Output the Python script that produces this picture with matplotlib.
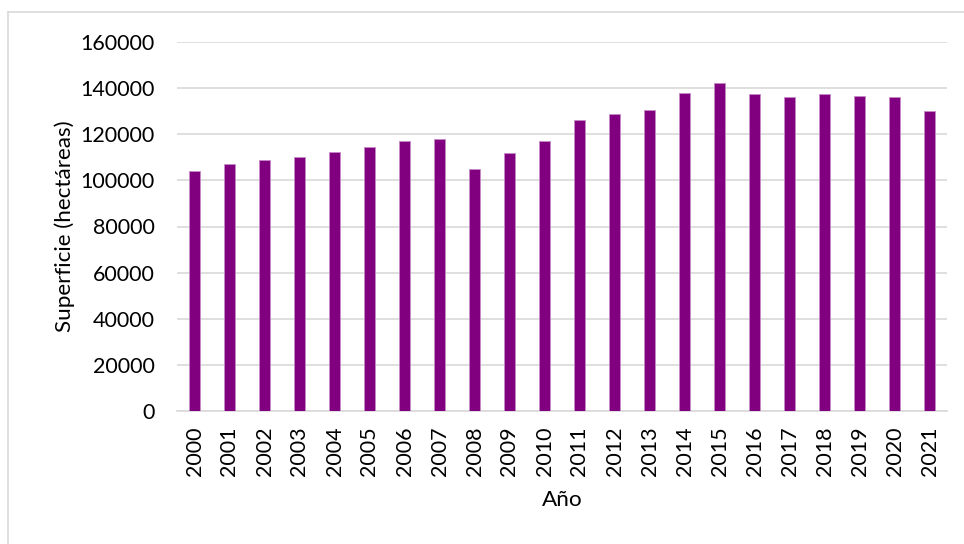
import matplotlib.pyplot as plt
from matplotlib.lines import Line2D

years = [str(y) for y in range(2000, 2022)]
superficie = [104000, 107100, 108800, 110300, 112300, 114600, 116900, 117800,
              104900, 111700, 116900, 126200, 128900, 130500, 137900, 142200,
              137600, 136000, 137500, 136600, 136300, 130200]
yticks = [0, 20000, 40000, 60000, 80000, 100000, 120000, 140000, 160000]

plt.rcParams['font.family'] = ['Lato', 'DejaVu Sans']

fig = plt.figure(figsize=(9.64, 5.44), dpi=100)
ax = fig.add_axes([177/964, 1 - 411/544, 770/964, 369/544])

ax.bar(years, superficie, width=0.33, color='#800080', edgecolor='#c58ac5',
       linewidth=0.6, zorder=3)

ax.set_xlim(-0.5, len(years) - 0.5)
ax.set_ylim(0, 160000)
ax.set_yticks(yticks)
ax.set_yticklabels([str(v) for v in yticks])
ax.yaxis.grid(True, color='#d9d9d9', linewidth=1.2, zorder=0)

for s in ['top', 'right', 'left']:
    ax.spines[s].set_visible(False)
ax.spines['bottom'].set_color('#d9d9d9')
ax.spines['bottom'].set_linewidth(1.2)
ax.tick_params(axis='both', length=0, labelsize=15.5)
ax.tick_params(axis='y', pad=16)
ax.tick_params(axis='x', pad=11)
plt.setp(ax.get_xticklabels(), rotation=90)

ax.set_ylabel('Superficie (hectáreas)', fontsize=16.2, labelpad=4)
ax.set_xlabel('Año', fontsize=16.2, labelpad=10)

# borde del área del gráfico
fig.add_artist(Line2D([8/964, 8/964], [0, 1 - 12/544], color='#d9d9d9', linewidth=1.2))
fig.add_artist(Line2D([8/964, 1], [1 - 12/544, 1 - 12/544], color='#d9d9d9', linewidth=1.2))

plt.savefig('out.png', dpi=100)
